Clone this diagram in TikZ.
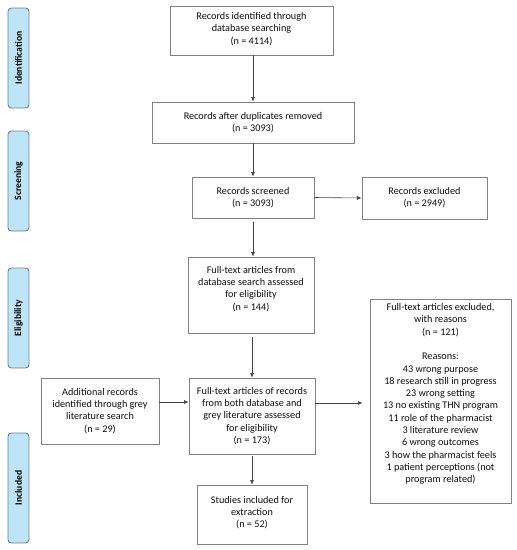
\documentclass[tikz,border=0pt]{standalone}
\usepackage{fontspec}
\setmainfont{Carlito}
\usetikzlibrary{arrows.meta}
\definecolor{boxline}{RGB}{128,128,128}
\definecolor{sidefill}{RGB}{190,228,248}
\definecolor{sideline}{RGB}{110,130,145}
\definecolor{txtcol}{RGB}{15,15,15}
\begin{document}
\begin{tikzpicture}[x=1pt,y=-1pt,
  box/.style={draw=boxline, line width=0.9pt, fill=white, inner sep=0pt},
  txt/.style={align=center, font=\fontsize{10.2}{12.3}\selectfont, text=txtcol, inner sep=0pt},
  side/.style={draw=sideline, line width=0.9pt, fill=sidefill, rounded corners=3.5pt, rotate=90,
    minimum height=21pt, inner sep=0pt, font=\fontsize{9.6}{10}\selectfont\bfseries, text=black},
  arr/.style={draw=black!75, line width=0.6pt, -{Latex[length=4.5pt,width=4pt]}}
]
\useasboundingbox (0,0) rectangle (517,550);

% phase labels
\node[side, minimum width=100pt] (sid) at (18.5,58) {Identification};
\node[side, minimum width=100pt] (ssc) at (18.5,181) {Screening};
\node[side, minimum width=100pt] (sel) at (18.5,318) {Eligibility};
\node[side, minimum width=110pt] (sin) at (18.5,488) {Included};

% boxes
\node[box, minimum width=163pt, minimum height=49pt] (b1) at (251.5,30.5) {};
\node[txt, yshift=1.5pt] (t1) at (b1) {Records identified through\\database searching\\(n = 4114)};

\node[box, minimum width=202pt, minimum height=41pt] (b2) at (253,122.5) {};
\node[txt] (t2) at (b2) {Records after duplicates removed\\(n = 3093)};

\node[box, minimum width=122pt, minimum height=41pt] (b3) at (253,197.5) {};
\node[txt] (t3) at (b3) {Records screened\\(n = 3093)};

\node[box, minimum width=125pt, minimum height=42pt] (ex) at (424.5,198) {};
\node[txt] (tex) at (ex) {Records excluded\\(n = 2949)};

\node[box, minimum width=126pt, minimum height=76pt] (b4) at (251,295) {};
\node[txt, yshift=6pt] (t4) at (b4) {Full-text articles from\\database search assessed\\for eligibility\\(n = 144)};

\node[box, minimum width=126pt, minimum height=76pt] (b5) at (252,416) {};
\node[txt] (t5) at (b5) {Full-text articles of records\\from both database and\\grey literature assessed\\for eligibility\\(n = 173)};

\node[box, minimum width=118pt, minimum height=66pt] (ad) at (100,411) {};
\node[txt] (tad) at (ad) {Additional records\\identified through grey\\literature search\\(n = 29)};

\node[box, minimum width=110pt, minimum height=59pt] (b6) at (252,514.5) {};
\node[txt, yshift=2pt] (t6) at (b6) {Studies included for\\extraction\\(n = 52)};

\node[box, minimum width=141pt, minimum height=204pt] (ef) at (440.5,401) {};
\node[txt, yshift=7pt] (tef) at (ef) {Full-text articles excluded,\\with reasons\\(n = 121)\\[12.3pt]Reasons:\\43 wrong purpose\\18 research still in progress\\23 wrong setting\\13 no existing THN program\\11 role of the pharmacist\\3 literature review\\6 wrong outcomes\\3 how the pharmacist feels\\1 patient perceptions (not\\program related)};

% connectors
\draw[arr] (b1.south -| b2.north) -- (b2.north);
\draw[arr] (b2.south) -- (b3.north);
\draw[arr] (b3.east) -- (ex.west);
\draw[arr, shorten <=4pt] (b3.south) -- (b4.north -| b3.south);
\draw[arr, shorten <=4pt] (b4.south -| b5.north) -- (b5.north);
\draw[arr] (ad.east |- 0,402) -- (b5.west |- 0,402);
\draw[arr, shorten >=7pt] (b5.east |- 0,403) -- (ef.west |- 0,403);
\draw[arr, shorten <=2pt] (b5.south) -- (b6.north);
\end{tikzpicture}
\end{document}
